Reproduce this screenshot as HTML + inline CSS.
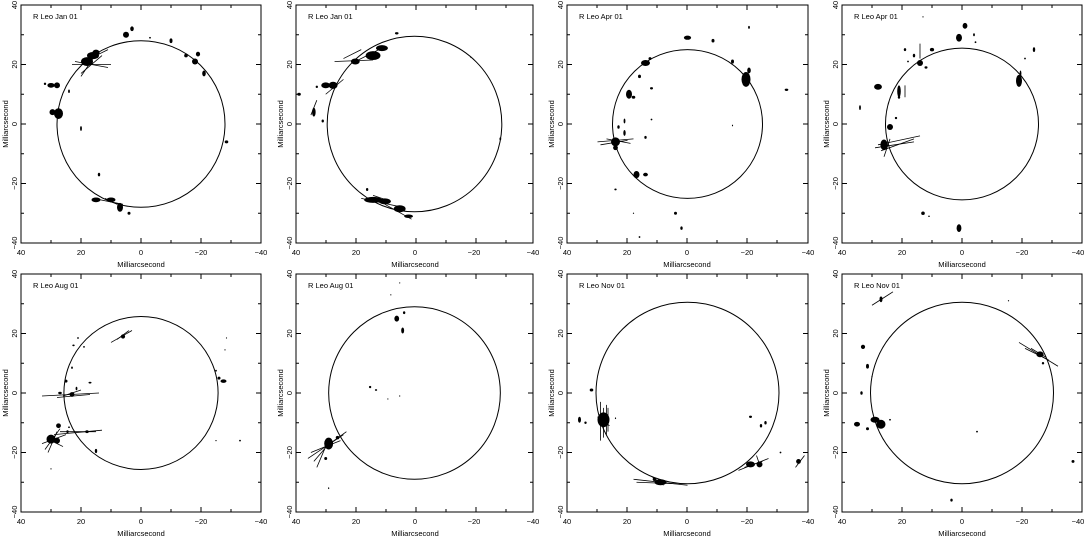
<!DOCTYPE html>
<html><head><meta charset="utf-8"><style>
html,body{margin:0;padding:0;background:#fff;}
svg{display:block;font-family:"Liberation Sans",sans-serif;}
text{font-size:7.5px;font-weight:normal;fill:#000;}
.ax{fill:none;stroke:#000;stroke-width:1;}
.d line{stroke:#000;stroke-width:0.8;vector-effect:non-scaling-stroke;}
.d circle.c{fill:none;stroke:#000;stroke-width:1;vector-effect:non-scaling-stroke;}
.d ellipse{fill:#000;}
</style></head><body>
<svg width="1089" height="538" viewBox="0 0 1089 538" xmlns="http://www.w3.org/2000/svg">

<!-- Panel 1 -->
<g transform="translate(21,5)">
<rect class="ax" x="0" y="0" width="240" height="238"/>
<path class="ax" d="M60,0v5M120,0v5M180,0v5M30,0v3M90,0v3M150,0v3M210,0v3M60,238v-5M120,238v-5M180,238v-5M30,238v-3M90,238v-3M150,238v-3M210,238v-3M0,59.5h5M0,119h5M0,178.5h5M0,29.75h3M0,89.25h3M0,148.75h3M0,208.25h3M240,59.5h-5M240,119h-5M240,178.5h-5M240,29.75h-3M240,89.25h-3M240,148.75h-3M240,208.25h-3"/>
<text x="12" y="14">R Leo Jan 01</text>
<text x="0" y="250" text-anchor="middle">40</text><text x="60" y="250" text-anchor="middle">20</text><text x="120" y="250" text-anchor="middle">0</text><text x="180" y="250" text-anchor="middle">−20</text><text x="240" y="250" text-anchor="middle">−40</text>
<text x="120" y="262" text-anchor="middle">Milliarcsecond</text>
<g transform="rotate(-90)"><text x="0" y="-4" text-anchor="middle">40</text><text x="-59.5" y="-4" text-anchor="middle">20</text><text x="-119" y="-4" text-anchor="middle">0</text><text x="-178.5" y="-4" text-anchor="middle">−20</text><text x="-238" y="-4" text-anchor="middle">−40</text><text x="-119" y="-13" text-anchor="middle">Milliarcsecond</text></g>
<g class="d" transform="translate(120,119) scale(-3,-2.975)">
<circle class="c" cx="0" cy="0" r="28"/>
<line x1="23" y1="20" x2="10" y2="20"/><line x1="22" y1="21" x2="11" y2="19"/><line x1="20" y1="17" x2="13" y2="23"/><line x1="17" y1="22" x2="11" y2="25"/><line x1="20" y1="16" x2="16" y2="22"/><line x1="16" y1="-25" x2="6" y2="-27"/><line x1="12" y1="-25" x2="8" y2="-27"/>
<ellipse cx="16" cy="23" rx="2" ry="1.2"/><ellipse cx="18" cy="21" rx="2" ry="1.5"/><ellipse cx="15" cy="24" rx="1.2" ry="1"/><ellipse cx="27.5" cy="3.5" rx="1.5" ry="1.8"/><ellipse cx="29.5" cy="4" rx="1" ry="1"/><ellipse cx="30" cy="13" rx="1.2" ry="0.8"/><ellipse cx="28" cy="13" rx="1" ry="1"/><ellipse cx="5" cy="30" rx="1" ry="1"/><ellipse cx="3" cy="32" rx="0.6" ry="0.8"/><ellipse cx="-3" cy="29" rx="0.3" ry="0.3"/><ellipse cx="-18" cy="21" rx="1" ry="1"/><ellipse cx="-19" cy="23.5" rx="0.7" ry="0.8"/><ellipse cx="-15" cy="23" rx="0.6" ry="0.6"/><ellipse cx="-21" cy="17" rx="0.6" ry="1"/><ellipse cx="-10" cy="28" rx="0.5" ry="0.8"/><ellipse cx="-28.5" cy="-6" rx="0.6" ry="0.5"/><ellipse cx="20" cy="-1.5" rx="0.3" ry="0.8"/><ellipse cx="14" cy="-17" rx="0.4" ry="0.6"/><ellipse cx="15" cy="-25.5" rx="1.5" ry="0.8"/><ellipse cx="10" cy="-25.5" rx="1.5" ry="0.8"/><ellipse cx="7" cy="-28" rx="1" ry="1.5"/><ellipse cx="4" cy="-30" rx="0.5" ry="0.5"/><ellipse cx="32" cy="13.5" rx="0.4" ry="0.4"/><ellipse cx="24" cy="11" rx="0.3" ry="0.6"/>
</g></g>

<!-- Panel 2 -->
<g transform="translate(296,5)">
<rect class="ax" x="0" y="0" width="237" height="238"/>
<path class="ax" d="M60,0v5M120,0v5M180,0v5M30,0v3M90,0v3M150,0v3M210,0v3M60,238v-5M120,238v-5M180,238v-5M30,238v-3M90,238v-3M150,238v-3M210,238v-3M0,59.5h5M0,119h5M0,178.5h5M0,29.75h3M0,89.25h3M0,148.75h3M0,208.25h3M237,59.5h-5M237,119h-5M237,178.5h-5M237,29.75h-3M237,89.25h-3M237,148.75h-3M237,208.25h-3"/>
<text x="12" y="14">R Leo Jan 01</text>
<text x="0" y="250" text-anchor="middle">40</text><text x="60" y="250" text-anchor="middle">20</text><text x="119" y="250" text-anchor="middle">0</text><text x="178" y="250" text-anchor="middle">−20</text><text x="237" y="250" text-anchor="middle">−40</text>
<text x="119" y="262" text-anchor="middle">Milliarcsecond</text>
<g transform="rotate(-90)"><text x="0" y="-4" text-anchor="middle">40</text><text x="-59.5" y="-4" text-anchor="middle">20</text><text x="-119" y="-4" text-anchor="middle">0</text><text x="-178.5" y="-4" text-anchor="middle">−20</text><text x="-238" y="-4" text-anchor="middle">−40</text><text x="-119" y="-13" text-anchor="middle">Milliarcsecond</text></g>
<g class="d" transform="translate(118.5,119) scale(-2.96,-2.975)">
<circle class="c" cx="0" cy="0" r="29.5"/>
<line x1="27" y1="21" x2="14" y2="21.5"/><line x1="24" y1="22" x2="18" y2="25"/><line x1="20" y1="21" x2="10" y2="26"/><line x1="30" y1="10" x2="24" y2="15"/><line x1="35" y1="3" x2="33" y2="8"/><line x1="18" y1="-25" x2="4" y2="-28"/><line x1="10" y1="-27" x2="1" y2="-32"/><line x1="14" y1="-24" x2="8" y2="-26"/>
<ellipse cx="14" cy="23" rx="2.5" ry="1.5"/><ellipse cx="11" cy="25.5" rx="2" ry="1"/><ellipse cx="20" cy="21" rx="1.5" ry="1"/><ellipse cx="6" cy="30.5" rx="0.6" ry="0.4"/><ellipse cx="30" cy="13" rx="1.5" ry="1"/><ellipse cx="33" cy="12.5" rx="0.4" ry="0.4"/><ellipse cx="27.5" cy="13" rx="1.5" ry="1.2"/><ellipse cx="34" cy="4" rx="0.6" ry="1.5"/><ellipse cx="39" cy="10" rx="0.6" ry="0.5"/><ellipse cx="31" cy="1" rx="0.4" ry="0.5"/><ellipse cx="14" cy="-25.5" rx="3" ry="1"/><ellipse cx="10" cy="-26" rx="2" ry="1"/><ellipse cx="5" cy="-28.5" rx="2" ry="1.2"/><ellipse cx="2" cy="-31" rx="1.5" ry="0.6"/><ellipse cx="16" cy="-22" rx="0.4" ry="0.5"/><ellipse cx="-29" cy="-5" rx="0.3" ry="0.5"/><ellipse cx="-19" cy="22.5" rx="0.2" ry="0.2"/>
</g></g>

<!-- Panel 3 -->
<g transform="translate(567,5)">
<rect class="ax" x="0" y="0" width="241" height="238"/>
<path class="ax" d="M60,0v5M120,0v5M180,0v5M30,0v3M90,0v3M150,0v3M210,0v3M60,238v-5M120,238v-5M180,238v-5M30,238v-3M90,238v-3M150,238v-3M210,238v-3M0,59.5h5M0,119h5M0,178.5h5M0,29.75h3M0,89.25h3M0,148.75h3M0,208.25h3M241,59.5h-5M241,119h-5M241,178.5h-5M241,29.75h-3M241,89.25h-3M241,148.75h-3M241,208.25h-3"/>
<text x="12" y="14">R Leo Apr 01</text>
<text x="0" y="250" text-anchor="middle">40</text><text x="60" y="250" text-anchor="middle">20</text><text x="120" y="250" text-anchor="middle">0</text><text x="180" y="250" text-anchor="middle">−20</text><text x="241" y="250" text-anchor="middle">−40</text>
<text x="120" y="262" text-anchor="middle">Milliarcsecond</text>
<g transform="rotate(-90)"><text x="0" y="-4" text-anchor="middle">40</text><text x="-59.5" y="-4" text-anchor="middle">20</text><text x="-119" y="-4" text-anchor="middle">0</text><text x="-178.5" y="-4" text-anchor="middle">−20</text><text x="-238" y="-4" text-anchor="middle">−40</text><text x="-119" y="-13" text-anchor="middle">Milliarcsecond</text></g>
<g class="d" transform="translate(120.5,119) scale(-3,-2.975)">
<circle class="c" cx="0" cy="0" r="25"/>
<line x1="30" y1="-6" x2="18" y2="-5"/><line x1="29" y1="-7" x2="20" y2="-5.5"/><line x1="27" y1="-5" x2="19" y2="-6.5"/>
<ellipse cx="24" cy="-6" rx="1.5" ry="1.5"/><ellipse cx="24" cy="-8" rx="0.8" ry="0.8"/><ellipse cx="21" cy="-3" rx="0.4" ry="1"/><ellipse cx="23" cy="-1" rx="0.4" ry="0.6"/><ellipse cx="21" cy="1" rx="0.3" ry="0.8"/><ellipse cx="14" cy="-4.5" rx="0.4" ry="0.5"/><ellipse cx="17" cy="-17" rx="1" ry="1.2"/><ellipse cx="14" cy="-17" rx="0.8" ry="0.6"/><ellipse cx="-19.5" cy="15" rx="1.5" ry="2.5"/><ellipse cx="-20.5" cy="18" rx="0.6" ry="1"/><ellipse cx="-15" cy="21" rx="0.5" ry="0.7"/><ellipse cx="14" cy="20.5" rx="1.5" ry="1"/><ellipse cx="12.5" cy="22" rx="0.5" ry="0.5"/><ellipse cx="16" cy="16" rx="0.5" ry="0.6"/><ellipse cx="19.5" cy="10" rx="1" ry="1.5"/><ellipse cx="18" cy="9" rx="0.6" ry="0.5"/><ellipse cx="12" cy="12" rx="0.5" ry="0.4"/><ellipse cx="0" cy="29" rx="1.2" ry="0.7"/><ellipse cx="-8.5" cy="28" rx="0.5" ry="0.6"/><ellipse cx="-33" cy="11.5" rx="0.6" ry="0.4"/><ellipse cx="-20.5" cy="32.5" rx="0.3" ry="0.5"/><ellipse cx="4" cy="-30" rx="0.5" ry="0.5"/><ellipse cx="2" cy="-35" rx="0.4" ry="0.6"/><ellipse cx="16" cy="-38" rx="0.3" ry="0.3"/><ellipse cx="24" cy="-22" rx="0.4" ry="0.3"/><ellipse cx="18" cy="-30" rx="0.2" ry="0.2"/><ellipse cx="-15" cy="-0.5" rx="0.2" ry="0.3"/><ellipse cx="12" cy="1.5" rx="0.3" ry="0.3"/>
</g></g>

<!-- Panel 4 -->
<g transform="translate(842,5)">
<rect class="ax" x="0" y="0" width="240" height="238"/>
<path class="ax" d="M60,0v5M120,0v5M180,0v5M30,0v3M90,0v3M150,0v3M210,0v3M60,238v-5M120,238v-5M180,238v-5M30,238v-3M90,238v-3M150,238v-3M210,238v-3M0,59.5h5M0,119h5M0,178.5h5M0,29.75h3M0,89.25h3M0,148.75h3M0,208.25h3M240,59.5h-5M240,119h-5M240,178.5h-5M240,29.75h-3M240,89.25h-3M240,148.75h-3M240,208.25h-3"/>
<text x="12" y="14">R Leo Apr 01</text>
<text x="0" y="250" text-anchor="middle">40</text><text x="60" y="250" text-anchor="middle">20</text><text x="120" y="250" text-anchor="middle">0</text><text x="180" y="250" text-anchor="middle">−20</text><text x="236" y="250" text-anchor="middle">−40</text>
<text x="120" y="262" text-anchor="middle">Milliarcsecond</text>
<g transform="rotate(-90)"><text x="0" y="-4" text-anchor="middle">40</text><text x="-59.5" y="-4" text-anchor="middle">20</text><text x="-119" y="-4" text-anchor="middle">0</text><text x="-178.5" y="-4" text-anchor="middle">−20</text><text x="-238" y="-4" text-anchor="middle">−40</text><text x="-119" y="-13" text-anchor="middle">Milliarcsecond</text></g>
<g class="d" transform="translate(120,119) scale(-3,-2.975)">
<circle class="c" cx="0" cy="0" r="25.5"/>
<line x1="28" y1="-7" x2="14" y2="-4"/><line x1="27" y1="-9" x2="16" y2="-5"/><line x1="29" y1="-8" x2="16" y2="-6"/><line x1="26" y1="-11" x2="24" y2="-5"/><line x1="14" y1="22" x2="14" y2="27"/><line x1="19" y1="13" x2="19" y2="9"/>
<ellipse cx="26" cy="-7" rx="1.2" ry="1.8"/><ellipse cx="24" cy="-1" rx="1" ry="1"/><ellipse cx="22" cy="2" rx="0.4" ry="0.4"/><ellipse cx="21" cy="11" rx="0.6" ry="2"/><ellipse cx="21" cy="9" rx="0.4" ry="0.5"/><ellipse cx="28" cy="12.5" rx="1.3" ry="1"/><ellipse cx="34" cy="5.5" rx="0.3" ry="0.8"/><ellipse cx="14" cy="20.5" rx="1" ry="1"/><ellipse cx="16" cy="23" rx="0.4" ry="0.6"/><ellipse cx="12" cy="19" rx="0.5" ry="0.4"/><ellipse cx="10" cy="25" rx="0.7" ry="0.6"/><ellipse cx="19" cy="25" rx="0.4" ry="0.5"/><ellipse cx="18" cy="21" rx="0.3" ry="0.3"/><ellipse cx="1" cy="29" rx="1" ry="1.3"/><ellipse cx="-1" cy="33" rx="0.8" ry="1"/><ellipse cx="-4" cy="30" rx="0.3" ry="0.5"/><ellipse cx="-4.5" cy="27.5" rx="0.3" ry="0.3"/><ellipse cx="13" cy="36" rx="0.2" ry="0.2"/><ellipse cx="-19" cy="14.5" rx="1" ry="2"/><ellipse cx="-19.5" cy="17" rx="0.3" ry="1"/><ellipse cx="-21" cy="22" rx="0.3" ry="0.3"/><ellipse cx="-24" cy="25" rx="0.4" ry="0.8"/><ellipse cx="13" cy="-30" rx="0.6" ry="0.6"/><ellipse cx="1" cy="-35" rx="0.8" ry="1.3"/><ellipse cx="11" cy="-31" rx="0.3" ry="0.2"/>
</g></g>

<!-- Panel 5 -->
<g transform="translate(21,274)">
<rect class="ax" x="0" y="0" width="240" height="238"/>
<path class="ax" d="M60,0v5M120,0v5M180,0v5M30,0v3M90,0v3M150,0v3M210,0v3M60,238v-5M120,238v-5M180,238v-5M30,238v-3M90,238v-3M150,238v-3M210,238v-3M0,59.5h5M0,119h5M0,178.5h5M0,29.75h3M0,89.25h3M0,148.75h3M0,208.25h3M240,59.5h-5M240,119h-5M240,178.5h-5M240,29.75h-3M240,89.25h-3M240,148.75h-3M240,208.25h-3"/>
<text x="12" y="14">R Leo Aug 01</text>
<text x="0" y="250" text-anchor="middle">40</text><text x="60" y="250" text-anchor="middle">20</text><text x="120" y="250" text-anchor="middle">0</text><text x="180" y="250" text-anchor="middle">−20</text><text x="240" y="250" text-anchor="middle">−40</text>
<text x="120" y="262" text-anchor="middle">Milliarcsecond</text>
<g transform="rotate(-90)"><text x="0" y="-4" text-anchor="middle">40</text><text x="-59.5" y="-4" text-anchor="middle">20</text><text x="-119" y="-4" text-anchor="middle">0</text><text x="-178.5" y="-4" text-anchor="middle">−20</text><text x="-238" y="-4" text-anchor="middle">−40</text><text x="-119" y="-13" text-anchor="middle">Milliarcsecond</text></g>
<g class="d" transform="translate(120,119) scale(-3,-2.975)">
<circle class="c" cx="0" cy="0" r="25.7"/>
<line x1="33" y1="-1" x2="14" y2="0"/><line x1="28" y1="-1.5" x2="17" y2="-0.5"/><line x1="26" y1="-1" x2="20" y2="1"/><line x1="29" y1="-14" x2="13" y2="-12.5"/><line x1="27" y1="-13" x2="15" y2="-13"/><line x1="33" y1="-17" x2="25" y2="-14"/><line x1="31" y1="-20" x2="28" y2="-13"/><line x1="30" y1="-16" x2="26" y2="-18"/><line x1="32" y1="-19" x2="27" y2="-12"/><line x1="10" y1="17" x2="3" y2="21"/><line x1="8" y1="18" x2="4" y2="21"/>
<ellipse cx="30" cy="-15.5" rx="1.5" ry="1.5"/><ellipse cx="28" cy="-16" rx="1" ry="1"/><ellipse cx="23" cy="-0.5" rx="0.8" ry="0.8"/><ellipse cx="27" cy="0" rx="0.6" ry="0.4"/><ellipse cx="18" cy="-13" rx="0.6" ry="0.5"/><ellipse cx="27.5" cy="-11" rx="0.8" ry="0.8"/><ellipse cx="24.5" cy="-13" rx="0.4" ry="0.5"/><ellipse cx="15" cy="-19.5" rx="0.4" ry="0.7"/><ellipse cx="6" cy="19" rx="0.7" ry="0.7"/><ellipse cx="25" cy="4" rx="0.5" ry="0.5"/><ellipse cx="21.5" cy="1.5" rx="0.3" ry="0.6"/><ellipse cx="17" cy="3.5" rx="0.5" ry="0.3"/><ellipse cx="-26" cy="5" rx="0.5" ry="0.5"/><ellipse cx="-27.5" cy="4" rx="1" ry="0.6"/><ellipse cx="-25" cy="7.5" rx="0.3" ry="0.3"/><ellipse cx="-28" cy="14.5" rx="0.2" ry="0.2"/><ellipse cx="-28.5" cy="18.5" rx="0.2" ry="0.2"/><ellipse cx="-25" cy="-16" rx="0.2" ry="0.2"/><ellipse cx="-33" cy="-16" rx="0.3" ry="0.3"/><ellipse cx="22.5" cy="16" rx="0.4" ry="0.3"/><ellipse cx="21" cy="18.5" rx="0.3" ry="0.3"/><ellipse cx="19" cy="15.5" rx="0.3" ry="0.3"/><ellipse cx="23" cy="8.5" rx="0.3" ry="0.4"/><ellipse cx="30" cy="-25.5" rx="0.2" ry="0.2"/><ellipse cx="24" cy="-11.5" rx="0.3" ry="0.3"/>
</g></g>

<!-- Panel 6 -->
<g transform="translate(296,274)">
<rect class="ax" x="0" y="0" width="237" height="238"/>
<path class="ax" d="M60,0v5M120,0v5M180,0v5M30,0v3M90,0v3M150,0v3M210,0v3M60,238v-5M120,238v-5M180,238v-5M30,238v-3M90,238v-3M150,238v-3M210,238v-3M0,59.5h5M0,119h5M0,178.5h5M0,29.75h3M0,89.25h3M0,148.75h3M0,208.25h3M237,59.5h-5M237,119h-5M237,178.5h-5M237,29.75h-3M237,89.25h-3M237,148.75h-3M237,208.25h-3"/>
<text x="12" y="14">R Leo Aug 01</text>
<text x="0" y="250" text-anchor="middle">40</text><text x="60" y="250" text-anchor="middle">20</text><text x="119" y="250" text-anchor="middle">0</text><text x="178" y="250" text-anchor="middle">−20</text><text x="237" y="250" text-anchor="middle">−40</text>
<text x="119" y="262" text-anchor="middle">Milliarcsecond</text>
<g transform="rotate(-90)"><text x="0" y="-4" text-anchor="middle">40</text><text x="-59.5" y="-4" text-anchor="middle">20</text><text x="-119" y="-4" text-anchor="middle">0</text><text x="-178.5" y="-4" text-anchor="middle">−20</text><text x="-238" y="-4" text-anchor="middle">−40</text><text x="-119" y="-13" text-anchor="middle">Milliarcsecond</text></g>
<g class="d" transform="translate(118.5,119) scale(-2.96,-2.975)">
<circle class="c" cx="0" cy="0" r="29"/>
<line x1="30" y1="-18" x2="24" y2="-14"/><line x1="30" y1="-18" x2="23" y2="-13"/><line x1="30" y1="-18" x2="36" y2="-22"/><line x1="30" y1="-18" x2="33" y2="-25"/><line x1="30" y1="-18" x2="25" y2="-16"/><line x1="30" y1="-18" x2="35" y2="-20"/><line x1="28" y1="-16" x2="34" y2="-23"/>
<ellipse cx="29" cy="-17" rx="1.5" ry="2"/><ellipse cx="26" cy="-15" rx="0.6" ry="0.6"/><ellipse cx="4" cy="21" rx="0.5" ry="1"/><ellipse cx="6" cy="25" rx="0.8" ry="1"/><ellipse cx="3.5" cy="27" rx="0.4" ry="0.5"/><ellipse cx="15" cy="2" rx="0.4" ry="0.4"/><ellipse cx="13" cy="1" rx="0.4" ry="0.3"/><ellipse cx="9" cy="-2" rx="0.2" ry="0.2"/><ellipse cx="5" cy="-1" rx="0.2" ry="0.2"/><ellipse cx="29" cy="-32" rx="0.2" ry="0.3"/><ellipse cx="8" cy="33" rx="0.2" ry="0.2"/><ellipse cx="5" cy="37" rx="0.2" ry="0.2"/><ellipse cx="30" cy="-22" rx="0.5" ry="0.5"/>
</g></g>

<!-- Panel 7 -->
<g transform="translate(567,274)">
<rect class="ax" x="0" y="0" width="241" height="238"/>
<path class="ax" d="M60,0v5M120,0v5M180,0v5M30,0v3M90,0v3M150,0v3M210,0v3M60,238v-5M120,238v-5M180,238v-5M30,238v-3M90,238v-3M150,238v-3M210,238v-3M0,59.5h5M0,119h5M0,178.5h5M0,29.75h3M0,89.25h3M0,148.75h3M0,208.25h3M241,59.5h-5M241,119h-5M241,178.5h-5M241,29.75h-3M241,89.25h-3M241,148.75h-3M241,208.25h-3"/>
<text x="12" y="14">R Leo Nov 01</text>
<text x="0" y="250" text-anchor="middle">40</text><text x="60" y="250" text-anchor="middle">20</text><text x="120" y="250" text-anchor="middle">0</text><text x="180" y="250" text-anchor="middle">−20</text><text x="241" y="250" text-anchor="middle">−40</text>
<text x="120" y="262" text-anchor="middle">Milliarcsecond</text>
<g transform="rotate(-90)"><text x="0" y="-4" text-anchor="middle">40</text><text x="-59.5" y="-4" text-anchor="middle">20</text><text x="-119" y="-4" text-anchor="middle">0</text><text x="-178.5" y="-4" text-anchor="middle">−20</text><text x="-238" y="-4" text-anchor="middle">−40</text><text x="-119" y="-13" text-anchor="middle">Milliarcsecond</text></g>
<g class="d" transform="translate(120.5,119) scale(-3,-2.975)">
<circle class="c" cx="0" cy="0" r="30.5"/>
<line x1="29" y1="-3" x2="29" y2="-16"/><line x1="27" y1="-4" x2="27" y2="-14"/><line x1="28" y1="-5" x2="28" y2="-15"/><line x1="30" y1="-8" x2="26" y2="-11"/><line x1="26.5" y1="-5" x2="26.5" y2="-13"/><line x1="18" y1="-29" x2="0" y2="-31"/><line x1="17" y1="-30" x2="4" y2="-30.5"/><line x1="12" y1="-28" x2="8" y2="-31"/><line x1="-17" y1="-26" x2="-27" y2="-22"/><line x1="-19" y1="-25" x2="-25" y2="-23"/><line x1="-23" y1="-21" x2="-24" y2="-24"/><line x1="-36" y1="-25" x2="-39" y2="-21"/>
<ellipse cx="28" cy="-9" rx="2" ry="2.5"/><ellipse cx="36" cy="-9" rx="0.5" ry="1"/><ellipse cx="34" cy="-10" rx="0.4" ry="0.4"/><ellipse cx="32" cy="1" rx="0.6" ry="0.5"/><ellipse cx="24" cy="-8.5" rx="0.2" ry="0.3"/><ellipse cx="9" cy="-30" rx="2" ry="1"/><ellipse cx="11" cy="-29" rx="0.6" ry="0.6"/><ellipse cx="-21" cy="-24" rx="1.5" ry="1"/><ellipse cx="-24" cy="-24" rx="1" ry="1"/><ellipse cx="-21" cy="-8" rx="0.5" ry="0.4"/><ellipse cx="-24.5" cy="-11" rx="0.4" ry="0.6"/><ellipse cx="-26" cy="-10" rx="0.4" ry="0.6"/><ellipse cx="-31" cy="-20" rx="0.3" ry="0.3"/><ellipse cx="-37" cy="-23" rx="0.8" ry="0.8"/>
</g></g>

<!-- Panel 8 -->
<g transform="translate(842,274)">
<rect class="ax" x="0" y="0" width="240" height="238"/>
<path class="ax" d="M60,0v5M120,0v5M180,0v5M30,0v3M90,0v3M150,0v3M210,0v3M60,238v-5M120,238v-5M180,238v-5M30,238v-3M90,238v-3M150,238v-3M210,238v-3M0,59.5h5M0,119h5M0,178.5h5M0,29.75h3M0,89.25h3M0,148.75h3M0,208.25h3M240,59.5h-5M240,119h-5M240,178.5h-5M240,29.75h-3M240,89.25h-3M240,148.75h-3M240,208.25h-3"/>
<text x="12" y="14">R Leo Nov 01</text>
<text x="0" y="250" text-anchor="middle">40</text><text x="60" y="250" text-anchor="middle">20</text><text x="120" y="250" text-anchor="middle">0</text><text x="180" y="250" text-anchor="middle">−20</text><text x="236" y="250" text-anchor="middle">−40</text>
<text x="120" y="262" text-anchor="middle">Milliarcsecond</text>
<g transform="rotate(-90)"><text x="0" y="-4" text-anchor="middle">40</text><text x="-59.5" y="-4" text-anchor="middle">20</text><text x="-119" y="-4" text-anchor="middle">0</text><text x="-178.5" y="-4" text-anchor="middle">−20</text><text x="-238" y="-4" text-anchor="middle">−40</text><text x="-119" y="-13" text-anchor="middle">Milliarcsecond</text></g>
<g class="d" transform="translate(120,119) scale(-3,-2.975)">
<circle class="c" cx="0" cy="0" r="30.5"/>
<line x1="-19" y1="17" x2="-32" y2="9"/><line x1="-21" y1="15" x2="-29" y2="11"/><line x1="-23" y1="15" x2="-28" y2="12"/><line x1="30" y1="29.5" x2="23" y2="34"/>
<ellipse cx="-26" cy="13" rx="1.2" ry="1"/><ellipse cx="-27" cy="10" rx="0.4" ry="0.4"/><ellipse cx="27" cy="31.5" rx="0.5" ry="1"/><ellipse cx="33" cy="15.5" rx="0.7" ry="0.7"/><ellipse cx="31.5" cy="9" rx="0.5" ry="0.8"/><ellipse cx="33.5" cy="0" rx="0.4" ry="0.6"/><ellipse cx="35" cy="-10.5" rx="1" ry="0.8"/><ellipse cx="29" cy="-9" rx="1.5" ry="1"/><ellipse cx="27" cy="-10.5" rx="1.5" ry="1.5"/><ellipse cx="31.5" cy="-12" rx="0.5" ry="0.5"/><ellipse cx="24" cy="-9" rx="0.3" ry="0.3"/><ellipse cx="-5" cy="-13" rx="0.3" ry="0.3"/><ellipse cx="-37" cy="-23" rx="0.5" ry="0.5"/><ellipse cx="3.5" cy="-36" rx="0.4" ry="0.5"/><ellipse cx="-15.5" cy="31" rx="0.2" ry="0.2"/><ellipse cx="30" cy="5.5" rx="0.2" ry="0.2"/>
</g></g>
</svg>
</body></html>
